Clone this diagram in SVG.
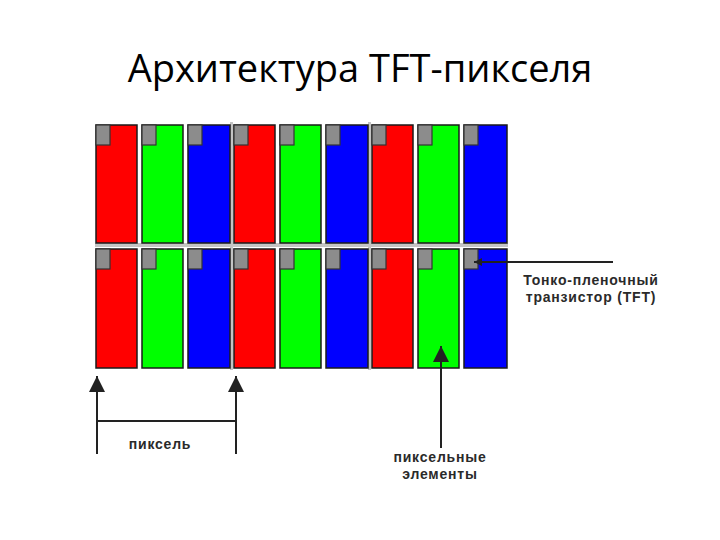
<svg xmlns="http://www.w3.org/2000/svg" width="720" height="540" viewBox="0 0 720 540">
<defs>
<style>
.r{fill:#ff0000;stroke:#1a1a1a;stroke-width:1.5}
.g{fill:#00ff00;stroke:#1a1a1a;stroke-width:1.5}
.b{fill:#0000ff;stroke:#1a1a1a;stroke-width:1.5}
.t{fill:#8c8c8c;stroke:#333;stroke-width:1.2}
.sep{fill:#c4c4c4}
.ln{stroke:#222;stroke-width:2;fill:none}
.lbl{font-family:"Liberation Sans",Arial,sans-serif;font-size:14px;font-weight:bold;fill:#2a2a2a;letter-spacing:0.8px}
.title{font-family:"Open Sans","Liberation Sans",sans-serif;font-size:38px;fill:#000}
</style>
<marker id="ah" viewBox="0 0 10 10" refX="10" refY="5" markerWidth="8" markerHeight="8" orient="auto" markerUnits="userSpaceOnUse">
<path d="M0,0 L10,5 L0,10 Z" fill="#222"/>
</marker>
<marker id="ahL" viewBox="0 0 10 10" refX="10" refY="5" markerWidth="16" markerHeight="16" orient="auto" markerUnits="userSpaceOnUse">
<path d="M0,0 L10,5 L0,10 Z" fill="#222"/>
</marker>
</defs>
<rect width="720" height="540" fill="#fff"/>
<text class="title" x="360" y="82" text-anchor="middle">Архитектура TFT-пикселя</text>

<g id="separators">
<rect class="sep" x="95" y="243" width="413" height="4"/>
<rect class="sep" x="230" y="122" width="3" height="248"/>
<rect class="sep" x="368" y="122" width="3" height="248"/>
</g>

<g id="pixel-1-top">
<rect class="r" x="96" y="125" width="41" height="118"/><rect class="t" x="96" y="125" width="14" height="20"/>
<rect class="g" x="142" y="125" width="41" height="118"/><rect class="t" x="142" y="125" width="14" height="20"/>
<rect class="b" x="188" y="125" width="42" height="118"/><rect class="t" x="188" y="125" width="14" height="20"/>
</g>
<g id="pixel-2-top">
<rect class="r" x="234" y="125" width="41" height="118"/><rect class="t" x="234" y="125" width="14" height="20"/>
<rect class="g" x="280" y="125" width="41" height="118"/><rect class="t" x="280" y="125" width="14" height="20"/>
<rect class="b" x="326" y="125" width="42" height="118"/><rect class="t" x="326" y="125" width="14" height="20"/>
</g>
<g id="pixel-3-top">
<rect class="r" x="372" y="125" width="41" height="118"/><rect class="t" x="372" y="125" width="14" height="20"/>
<rect class="g" x="418" y="125" width="41" height="118"/><rect class="t" x="418" y="125" width="14" height="20"/>
<rect class="b" x="464" y="125" width="43" height="118"/><rect class="t" x="464" y="125" width="14" height="20"/>
</g>
<g id="pixel-1-bottom">
<rect class="r" x="96" y="249" width="41" height="119"/><rect class="t" x="96" y="249" width="14" height="20"/>
<rect class="g" x="142" y="249" width="41" height="119"/><rect class="t" x="142" y="249" width="14" height="20"/>
<rect class="b" x="188" y="249" width="42" height="119"/><rect class="t" x="188" y="249" width="14" height="20"/>
</g>
<g id="pixel-2-bottom">
<rect class="r" x="234" y="249" width="41" height="119"/><rect class="t" x="234" y="249" width="14" height="20"/>
<rect class="g" x="280" y="249" width="41" height="119"/><rect class="t" x="280" y="249" width="14" height="20"/>
<rect class="b" x="326" y="249" width="42" height="119"/><rect class="t" x="326" y="249" width="14" height="20"/>
</g>
<g id="pixel-3-bottom">
<rect class="r" x="372" y="249" width="41" height="119"/><rect class="t" x="372" y="249" width="14" height="20"/>
<rect class="g" x="418" y="249" width="41" height="119"/><rect class="t" x="418" y="249" width="14" height="20"/>
<rect class="b" x="464" y="249" width="43" height="119"/><rect class="t" x="464" y="249" width="14" height="20"/>
</g>

<g id="connectors">
<line class="ln" x1="97" y1="454" x2="97" y2="376" marker-end="url(#ahL)"/>
<line class="ln" x1="236" y1="454" x2="236" y2="376" marker-end="url(#ahL)"/>
<line class="ln" x1="97" y1="421" x2="236" y2="421"/>
<line class="ln" x1="441" y1="448" x2="441" y2="346" marker-end="url(#ahL)"/>
<line class="ln" x1="613" y1="262" x2="474" y2="262" marker-end="url(#ah)"/>
</g>

<g id="label-pixel">
<text class="lbl" x="160" y="449" text-anchor="middle">пиксель</text>
</g>
<g id="label-elements">
<text class="lbl" x="440" y="462" text-anchor="middle">пиксельные</text>
<text class="lbl" x="440" y="479" text-anchor="middle">элементы</text>
</g>
<g id="label-tft">
<text class="lbl" x="591" y="285" text-anchor="middle">Тонко-пленочный</text>
<text class="lbl" x="591" y="302" text-anchor="middle">транзистор (TFT)</text>
</g>
</svg>
